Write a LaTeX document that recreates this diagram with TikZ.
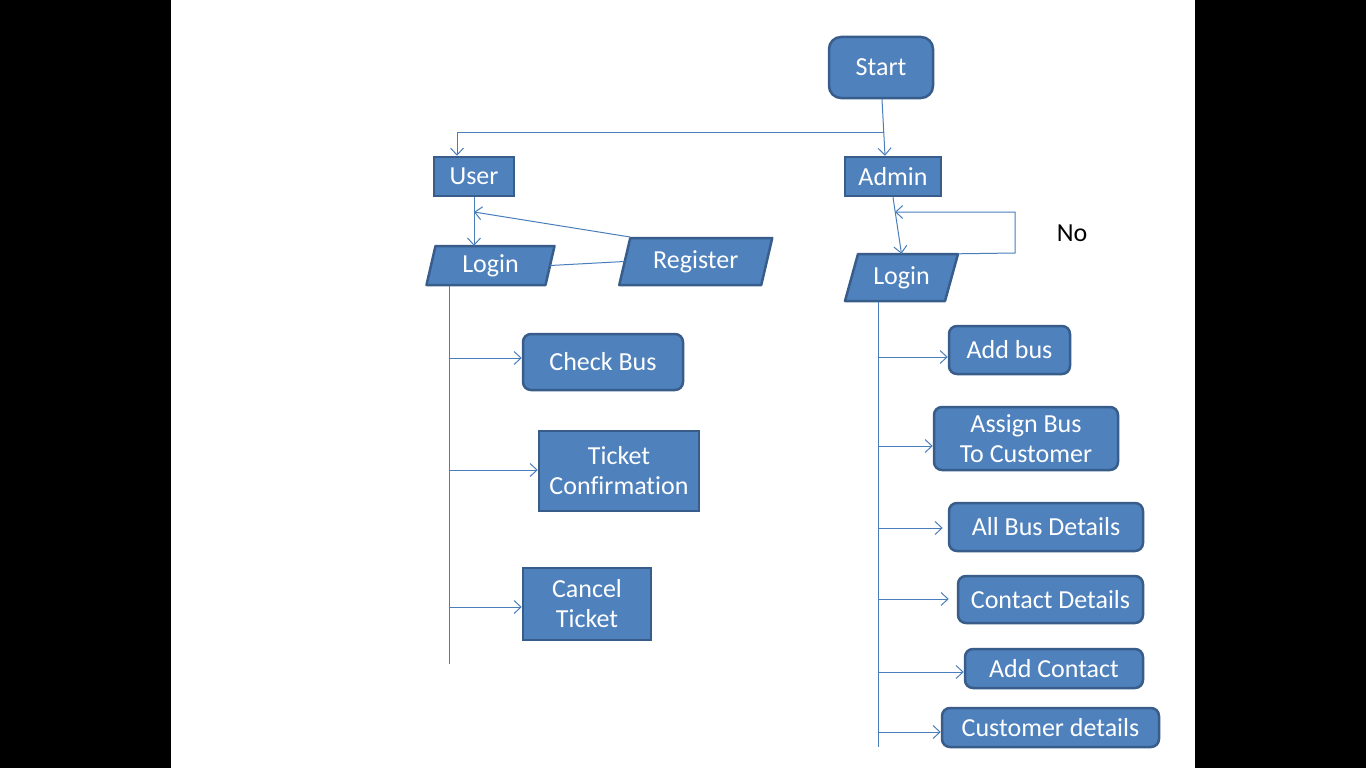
\documentclass[tikz,border=0pt]{standalone}
\usepackage{fontspec}
\setmainfont{Carlito}[Ligatures=NoCommon]
\usetikzlibrary{arrows.meta,calc}
\definecolor{boxfill}{HTML}{4F81BD}
\definecolor{boxline}{HTML}{385D8A}
\definecolor{connc}{HTML}{4A7EBB}
\newcommand{\mypara}[7]{%
  \path[parashape] ({#2-#4/2+#6},{#3-#5/2}) -- ({#2+#4/2+#6},{#3-#5/2}) -- ({#2+#4/2-#6},{#3+#5/2}) -- ({#2-#4/2-#6},{#3+#5/2}) -- cycle;
  \node[txt, minimum width=#4, minimum height=#5] (#1) at (#2,#3) {#7};}
\begin{document}
\begin{tikzpicture}[x=1pt,y=-1pt,
  txt/.style={text=white, font=\fontsize{26}{30}\selectfont, align=center, inner sep=0pt},
  box/.style={txt, draw=boxline, fill=boxfill, line width=2.5pt},
  rbox/.style={box, rounded corners=8pt},
  parashape/.style={draw=boxline, fill=boxfill, line width=2.5pt, line join=round},
  conn/.style={draw=connc, line width=1pt},
  arr/.style={conn, -{Straight Barb[length=7pt,width=13pt,line width=1pt]}}]
\useasboundingbox (0,0) rectangle (1366,768);
\fill[black] (0,0) rectangle (1366,768);
\fill[white] (171,0) rectangle (1195,768);

% top nodes
\node[rbox, rounded corners=12pt, minimum width=104, minimum height=61] (start) at (881,67.5) {Start};
\node[box, minimum width=80, minimum height=39] (user) at (474,176.5) {User};
\node[box, minimum width=96, minimum height=39] (admin) at (893,176.5) {Admin};

% parallelograms
\mypara{ulogin}{490.5}{265.5}{119}{39}{4.5}{Login}
\mypara{register}{695.75}{261.5}{142}{47}{5.5}{Register}
\mypara{alogin}{901.5}{277.5}{100}{47}{6.5}{Login}

% user side boxes
\node[rbox, minimum width=160, minimum height=56] (checkbus) at (603,362) {Check Bus};
\node[box, minimum width=160, minimum height=80] (ticket) at (619,471) {Ticket\\Confirmation};
\node[box, minimum width=128, minimum height=72] (cancel) at (587,604) {Cancel\\Ticket};

% admin side boxes
\node[rbox, minimum width=121, minimum height=48] (addbus) at (1009.5,350) {Add bus};
\node[rbox, minimum width=184, minimum height=63] (assign) at (1026,438.5) {Assign Bus\\To Customer};
\node[rbox, minimum width=194, minimum height=48] (allbus) at (1046,527) {All Bus Details};
\node[rbox, minimum width=185, minimum height=47] (contact) at (1050.5,599.5) {Contact Details};
\node[rbox, minimum width=178, minimum height=39] (addcontact) at (1054,668.5) {Add Contact};
\node[rbox, minimum width=217, minimum height=39] (customer) at (1050.5,727.5) {Customer details};

\node[font=\fontsize{26}{30}\selectfont, text=black, inner sep=0pt] (no) at (1072,233) {No};

% connectors top
\draw[arr] ([xshift=1]start.south) -- ([xshift=-8]admin.north);
\coordinate (j) at (883.5,132);
\draw[arr] (j) -- (457,132) -- ([xshift=-17]user.north);
\draw[arr] (user.south) -- (user.south |- ulogin.north);
\coordinate (uret) at (474,212);
\draw[arr] (630,237) -- (uret);
\draw[conn] (ulogin.east) -- (register.west);
\draw[arr] (admin.south) -- (alogin.north);
\coordinate (aret) at (895,212);
\draw[arr] ([xshift=6]alogin.north east) -- (1015,253) -- (1015,212) -- (aret);

% user trunk
\coordinate (ut0) at (449,286);
\coordinate (ut1) at (449,664);
\draw[conn] (ut0) -- (ut1);
\draw[arr] (449,358) -- (checkbus.west |- 0,358);
\draw[arr] (449,470) -- (ticket.west |- 0,470);
\draw[arr] (449,607) -- (cancel.west |- 0,607);

% admin trunk
\coordinate (at0) at (878,302);
\coordinate (at1) at (878,747);
\draw[conn] (at0) -- (at1);
\draw[arr] (878,357) -- (addbus.west |- 0,357);
\draw[arr] (878,446) -- (assign.west |- 0,446);
\draw[arr] (878,528) -- ([xshift=-5]allbus.west |- 0,528);
\draw[arr] (878,599) -- ([xshift=-8]contact.west |- 0,599);
\draw[arr] (878,672) -- (addcontact.west |- 0,672);
\draw[arr] (878,732) -- (customer.west |- 0,732);
\end{tikzpicture}
\end{document}
